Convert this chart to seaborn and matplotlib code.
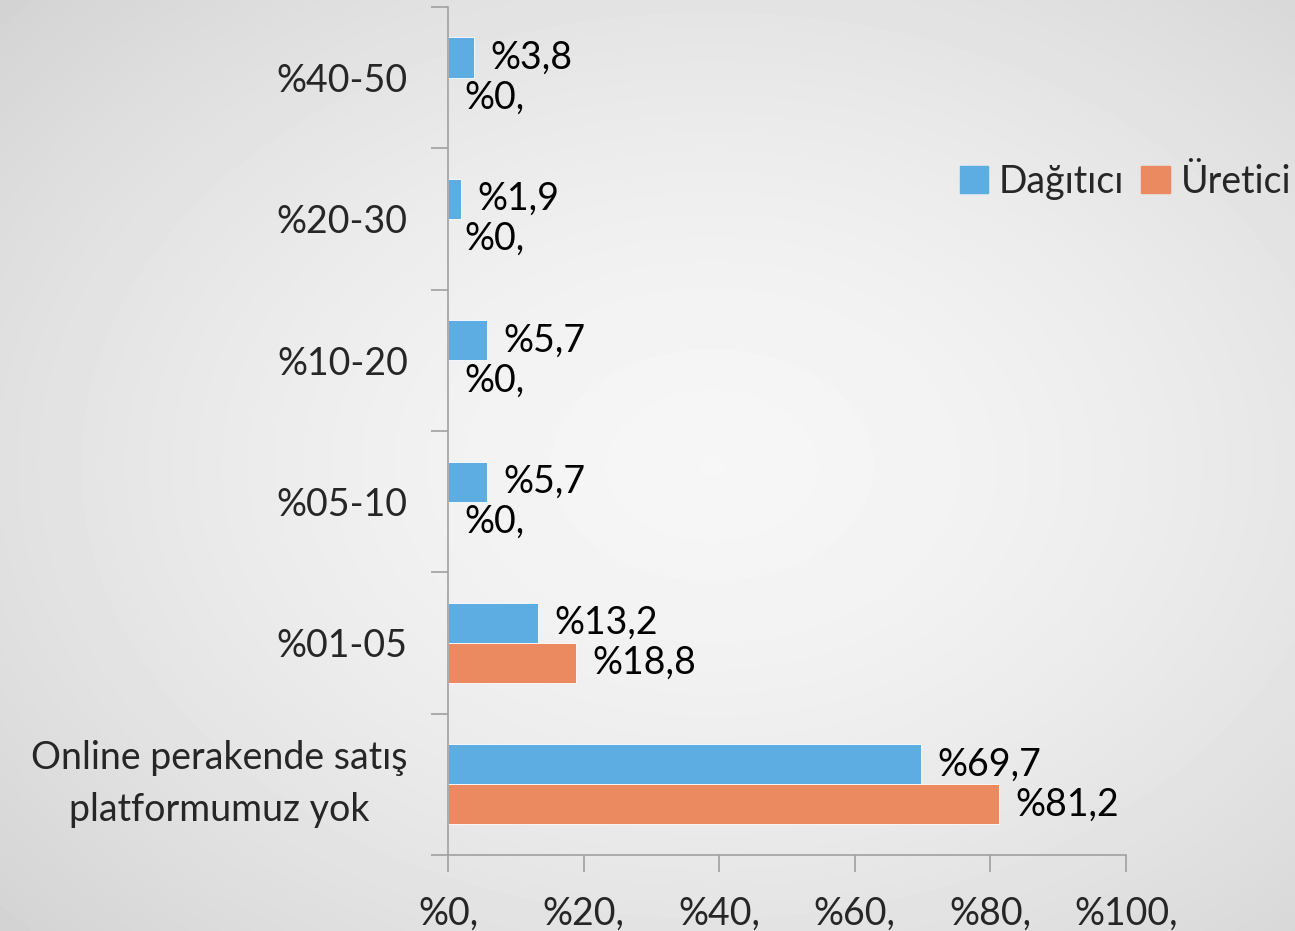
import matplotlib
matplotlib.use("Agg")
import matplotlib.pyplot as plt
import numpy as np
import pandas as pd
import seaborn as sns

categories = ["%40-50", "%20-30", "%10-20", "%05-10", "%01-05",
              "Online perakende satış\nplatformumuz yok"]
dagitici = [3.8, 1.9, 5.7, 5.7, 13.2, 69.7]
uretici = [0.0, 0.0, 0.0, 0.0, 18.8, 81.2]
groups = ["Dağıtıcı", "Üretici"]
x_ticks = [0, 20, 40, 60, 80, 100]
x_tick_labels = ["%0,", "%20,", "%40,", "%60,", "%80,", "%100,"]

colors = ["#5DADE2", "#EB8A60"]
axis_gray = "#a0a0a0"


def pct(v):
    if v == 0:
        return "%0,"
    return "%" + f"{v:.1f}".replace(".", ",")


df = pd.DataFrame({
    "kategori": categories * 2,
    "oran": dagitici + uretici,
    "grup": [groups[0]] * len(categories) + [groups[1]] * len(categories),
})

sns.set_style("white")
plt.rcParams["font.family"] = ["Lato", "DejaVu Sans"]

fig = plt.figure(figsize=(12.95, 9.31), dpi=100)

# radial grey background
bg = fig.add_axes([0, 0, 1, 1], zorder=-10)
yy, xx = np.mgrid[0:1:300j, 0:1:420j]
r = np.sqrt(((xx - 0.55) / 0.75) ** 2 + ((yy - 0.5) / 0.75) ** 2)
shade = np.clip(0.965 - 0.14 * r ** 1.6, 0.82, 1)
bg.imshow(shade, cmap="gray", vmin=0, vmax=1, aspect="auto",
          extent=[0, 1, 0, 1], interpolation="bicubic")
bg.axis("off")

ax = fig.add_axes([0.346, 0.0816, 0.5235, 0.911])
ax.set_facecolor("none")

sns.barplot(data=df, y="kategori", x="oran", hue="grup", order=categories,
            hue_order=groups, palette=colors, orient="y", width=0.567,
            saturation=1, edgecolor="#ffffff", linewidth=0.6, ax=ax)

for cont, vals in zip(ax.containers, [dagitici, uretici]):
    ax.bar_label(cont, labels=[pct(v) for v in vals], padding=12,
                 fontsize=27, color="black")

ax.set_xlim(0, 100)
ax.set_ylim(len(categories) - 0.5, -0.5)
ax.set_xticks(x_ticks)
ax.set_xticklabels(x_tick_labels, fontsize=27)
ax.set_yticks(range(len(categories)))
ax.set_yticklabels(categories, fontsize=27, multialignment="center",
                   linespacing=1.55)
ax.get_yticklabels()[-1].set_verticalalignment("center")
ax.set_yticks(np.arange(-0.5, len(categories)), minor=True)
ax.set_xlabel("")
ax.set_ylabel("")

ax.tick_params(axis="y", which="major", left=True, length=0, pad=29)
ax.tick_params(axis="y", which="minor", left=True, length=12,
               color=axis_gray, width=1.2, direction="out")
ax.tick_params(axis="x", which="major", bottom=True, length=12,
               color=axis_gray, width=1.2, direction="out", pad=17)

for side in ["top", "right"]:
    ax.spines[side].set_visible(False)
for side in ["left", "bottom"]:
    ax.spines[side].set_color(axis_gray)
    ax.spines[side].set_linewidth(1.2)

ax.legend_.remove()
handles = [plt.Rectangle((0, 0), 1, 1, color=c) for c in colors]
fig.legend(handles, groups, loc="center right", bbox_to_anchor=(1.0, 0.805),
           ncol=2, frameon=False, fontsize=27, handlelength=0.75,
           handleheight=0.75, handletextpad=0.3, columnspacing=0.45,
           borderaxespad=0.0, borderpad=0.1)

fig.savefig("out.png", dpi=100)
